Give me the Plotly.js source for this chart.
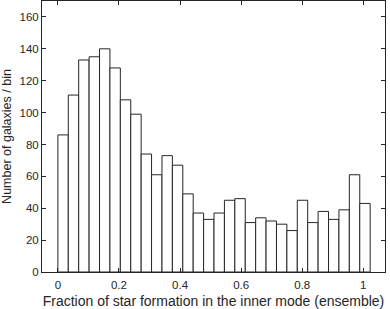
<!DOCTYPE html>
<html><head><meta charset="utf-8">
<script src="https://cdn.plot.ly/plotly-3.0.1.min.js"></script>
<style>html,body{margin:0;padding:0;background:#fff;}#chart{width:390px;height:309px;}</style>
</head><body><div id="chart"></div>
<script>
const binWidth = 0.03408;
const counts = [86,111,133,135,140,128,108,99,74,61,73,67,49,37,33,37,45,46,31,34,32,30,26,45,31,38,33,39,61,43];
const xTicks = [0,0.2,0.4,0.6,0.8,1];
const xTickLabels = ['0','0.2','0.4','0.6','0.8','1'];
const yTicks = [0,20,40,60,80,100,120,140,160];

const centers = counts.map((c,i)=> binWidth*(i+0.5));
const ink = '#262626';
const fam = 'Liberation Sans, Arial, sans-serif';
const trace = {
  type:'bar', x:centers, y:counts, width:binWidth,
  marker:{color:'#ffffff', line:{color:ink, width:1}},
  hoverinfo:'none'
};
const axisCommon = {
  showline:true, linecolor:ink, linewidth:1, mirror:'ticks',
  ticks:'inside', ticklen:4, tickcolor:ink, tickwidth:1,
  showgrid:false, zeroline:false,
  tickfont:{family:fam, size:11.5, color:ink}
};
const layout = {
  width:390, height:309,
  margin:{l:41.5, r:5, t:1, b:37},
  paper_bgcolor:'#fff', plot_bgcolor:'#fff',
  showlegend:false, bargap:0,
  xaxis:Object.assign({}, axisCommon, {
    range:[-0.052,1.071], tickvals:xTicks, ticktext:xTickLabels, ticklabelstandoff:2,
    title:{text:'Fraction of star formation in the inner mode (ensemble)', font:{family:fam, size:14, color:ink}, standoff:6}
  }),
  yaxis:Object.assign({}, axisCommon, {
    range:[0,170], tickvals:yTicks,
    title:{text:'Number of galaxies / bin', font:{family:fam, size:12.5, color:ink}, standoff:6}
  })
};
Plotly.newPlot('chart',[trace],layout,{staticPlot:true, displayModeBar:false});
</script></body></html>
